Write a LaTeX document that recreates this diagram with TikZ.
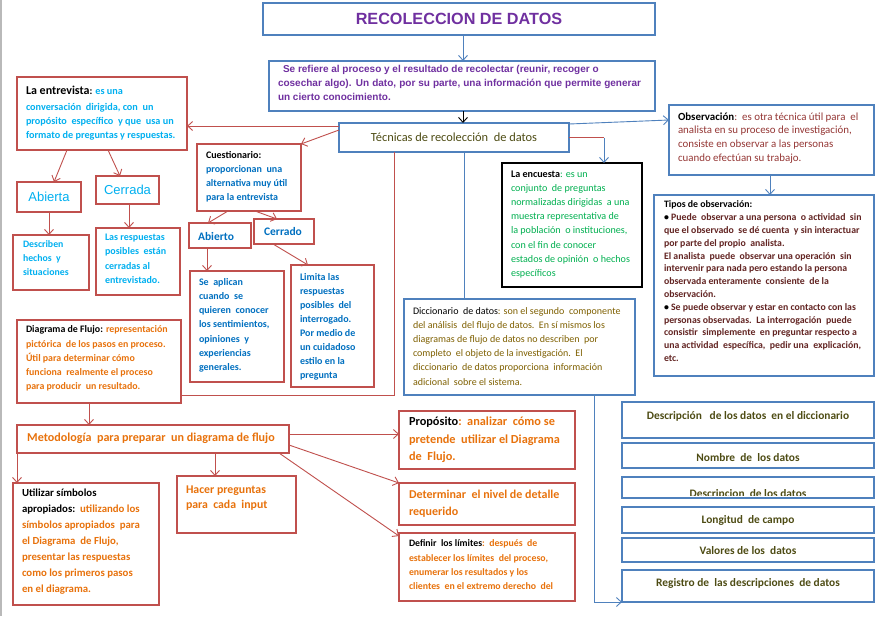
\documentclass[tikz,border=0pt]{standalone}
\usepackage{fontspec}
\setmainfont{Carlito}
\newfontfamily\arialf{Liberation Sans}
\usetikzlibrary{arrows.meta}
\definecolor{rbord}{HTML}{C0504D}
\definecolor{bbord}{HTML}{4F81BD}
\definecolor{cyant}{HTML}{00B0F0}
\definecolor{bluet}{HTML}{0070C0}
\definecolor{greent}{HTML}{00B050}
\definecolor{oranget}{HTML}{E8720C}
\definecolor{obst}{HTML}{953735}
\definecolor{tipt}{HTML}{632523}
\definecolor{purplet}{HTML}{7030A0}
\definecolor{olivet}{HTML}{4E4C14}
\definecolor{dictt}{HTML}{7F6000}
\newcommand{\myfs}[2]{\fontsize{#1}{#2}\selectfont}
\tikzset{
  bx/.style={draw, line width=1.7pt, inner sep=0pt, outer sep=0pt, anchor=north west},
  rb/.style={bx, draw=rbord},
  bb/.style={bx, draw=bbord},
  kb/.style={bx, draw=black, line width=2.2pt},
  tx/.style={anchor=north west, inner sep=0pt, outer sep=0pt, align=left},
  ct/.style={anchor=center, inner sep=0pt, outer sep=0pt},
  tip/.style={-{Straight Barb[length=5pt,width=9pt]}},
  rc/.style={draw=rbord, line width=0.9pt},
  bc/.style={draw=bbord, line width=0.9pt},
  kc/.style={draw=black, line width=0.9pt},
}
\begin{document}
\begin{tikzpicture}[x=1pt,y=-1pt]
\useasboundingbox (0,0) rectangle (893,616);
\fill[white] (0,0) rectangle (893,616);
\draw[gray!55, line width=2.5pt] (1,0) -- (1,616);

% ---------- top ----------
\node[bb, minimum width=392pt, minimum height=32pt, font=\arialf\bfseries\myfs{16.2}{18}, text=purplet] (title) at (263,3) {RECOLECCION DE DATOS};
\node[bb, minimum width=386pt, minimum height=50pt] (refiere) at (269,61) {};
\node[tx, font=\arialf\bfseries\myfs{10}{14}, text=purplet] (refiere-t) at (278,65.5)
 {\hspace*{5pt}Se refiere al proceso y el resultado de recolectar (reunir, recoger o\\\makebox[363pt][s]{cosechar algo). Un dato, por su parte, una información que permite generar}\\un cierto conocimiento.};
\node[bb, minimum width=230pt, minimum height=29pt, font=\myfs{12.4}{14}, text=olivet] (tecnicas) at (339,123) {Técnicas de recolección\ \ de datos};

% ---------- entrevista branch ----------
\node[rb, minimum width=170pt, minimum height=73pt] (entrevista) at (17,77) {};
\node[tx, font=\bfseries\myfs{10.2}{14}, text=cyant] (entrevista-t) at (26,86.5)
 {{\color{black}\myfs{12}{14}La entrevista}\textcolor{black}{:} es una\\[1.5pt]conversación\ \ dirigida, con\ \ un\\propósito\ \ específico\ \ y que\ \ usa un\\formato de preguntas y respuestas.};
\node[rb, minimum width=64pt, minimum height=30pt, font=\arialf\myfs{13}{15}, text=cyant] (abierta) at (17,182) {Abierta};
\node[rb, minimum width=63pt, minimum height=28pt, font=\arialf\myfs{13}{15}, text=cyant] (cerrada) at (96,176) {Cerrada};
\node[rb, minimum width=76pt, minimum height=55pt] (describen) at (13,235) {};
\node[tx, font=\bfseries\myfs{9.8}{14}, text=cyant] (describen-t) at (23,241)
 {Describen\\hechos\ \ y\\situaciones};
\node[rb, minimum width=84pt, minimum height=67pt] (lasresp) at (96,228) {};
\node[tx, font=\bfseries\myfs{10}{14.3}, text=cyant] (lasresp-t) at (105,234)
 {Las respuestas\\posibles\ \ están\\cerradas al\\entrevistado.};

% ---------- cuestionario branch ----------
\node[rb, minimum width=104pt, minimum height=67pt] (cuest) at (197,144) {};
\node[tx, font=\bfseries\myfs{10}{14}, text=bluet] (cuest-t) at (206,151)
 {\textcolor{black}{Cuestionario:}\\proporcionan\ \ una\\alternativa muy útil\\para la entrevista};
\node[rb, minimum width=62pt, minimum height=25pt] (abierto) at (189,223) {};
\node[ct, font=\bfseries\myfs{11.5}{13}, text=bluet] (abierto-t) at (216,237) {Abierto};
\node[rb, minimum width=60pt, minimum height=25pt] (cerrado) at (254,219) {};
\node[ct, font=\bfseries\myfs{11.5}{13}, text=bluet] (cerrado-t) at (283,232) {Cerrado};
\node[rb, minimum width=94pt, minimum height=111pt] (seaplican) at (190,271) {};
\node[tx, font=\bfseries\myfs{10}{14.3}, text=bluet] (seaplican-t) at (199,278)
 {Se\ \ aplican\\cuando\ \ se\\quieren\ \ conocer\\los sentimientos,\\opiniones\ \ y\\experiencias\\generales.};
\node[rb, minimum width=83pt, minimum height=122pt] (limita) at (291,265) {};
\node[tx, font=\bfseries\myfs{10}{14.1}, text=bluet] (limita-t) at (300,273)
 {Limita las\\respuestas\\posibles\ \ del\\interrogado.\\Por medio de\\un cuidadoso\\estilo en la\\pregunta};

% ---------- encuesta ----------
\node[kb, minimum width=140pt, minimum height=124pt] (encuesta) at (502,163) {};
\node[tx, font=\myfs{10.1}{14.1}, text=greent] (encuesta-t) at (511,171)
 {\textcolor{black}{\bfseries La encuesta}: es un\\conjunto\ \ de preguntas\\normalizadas dirigidas\ \ a una\\muestra representativa de\\la población\ \ o instituciones,\\con el fin de conocer\\estados de opinión\ \ o hechos\\específicos};

% ---------- observacion ----------
\node[bb, minimum width=205pt, minimum height=70pt] (observ) at (669,105) {};
\node[tx, font=\myfs{10.9}{13.7}, text=obst] (observ-t) at (678,112.5)
 {\textcolor{black}{\bfseries Observación}:\ \ es otra técnica útil para\ \ el\\analista en su proceso de investigación,\\consiste en observar a las personas\\cuando efectúan su trabajo.};
\node[bb, minimum width=220pt, minimum height=181pt] (tipos) at (654,195) {};
\node[tx, font=\bfseries\myfs{9.8}{12.8}, text=tipt] (tipos-t) at (664,201)
 {\textcolor{black}{Tipos de observación:}\\\textcolor{black}{\textbullet} Puede\ \ observar a una persona\ \ o actividad\ \ sin\\que el observado\ \ se dé cuenta\ \ y sin interactuar\\por parte del propio\ \ analista.\\El analista\ \ puede\ \ observar una operación\ \ sin\\intervenir para nada pero estando la persona\\observada enteramente\ \ consiente\ \ de la\\observación.\\\textcolor{black}{\textbullet} Se puede observar y estar en contacto con las\\personas observadas.\ \ La interrogación\ \ puede\\consistir\ \ simplemente\ \ en preguntar respecto a\\una actividad\ \ específica,\ \ pedir una\ \ explicación,\\etc.};

% ---------- diccionario ----------
\node[bb, minimum width=231pt, minimum height=96pt] (dicc) at (404,299) {};
\node[tx, font=\myfs{10}{14}, text=dictt] (dicc-t) at (413,307.5)
 {\textcolor{black}{Diccionario\ \ de datos}: son el segundo\ \ componente\\del análisis\ \ del flujo de datos.\ \ En sí mismos los\\diagramas de flujo de datos no describen\ \ por\\completo\ \ el objeto de la investigación.\ \ El\\diccionario\ \ de datos proporciona\ \ información\\[1.5pt]adicional\ \ sobre el sistema.};

\node[bb, minimum width=252pt, minimum height=36pt] (desc) at (622,402) {};
\node[ct, font=\bfseries\myfs{11.4}{13}, text=olivet] (desc-t) at (748,416) {Descripción\ \ \ de los datos\ \ en el diccionario};
\node[bb, minimum width=252pt, minimum height=25pt] (nombre) at (622,443) {};
\node[ct, font=\bfseries\myfs{11.4}{13}, text=olivet] (nombre-t) at (748,458) {Nombre\ \ de\ \ los datos};
\begin{scope}
\clip (622,477) rectangle (874,495.2);
\node[anchor=base, inner sep=0pt, font=\bfseries\myfs{11.4}{13}, text=olivet] (descr2-t) at (748,497) {Descripcion\ \ de los datos};
\end{scope}
\node[bb, minimum width=252pt, minimum height=21pt] (descr2) at (622,477) {};
\node[bb, minimum width=252pt, minimum height=26pt] (longitud) at (622,507) {};
\node[ct, font=\bfseries\myfs{11.4}{13}, text=olivet] (longitud-t) at (748,520) {Longitud\ \ de campo};
\node[bb, minimum width=252pt, minimum height=24pt] (valores) at (622,538) {};
\node[ct, font=\bfseries\myfs{11.4}{13}, text=olivet] (valores-t) at (748,551) {Valores de los\ \ datos};
\node[bb, minimum width=252pt, minimum height=32pt] (registro) at (622,570) {};
\node[ct, font=\bfseries\myfs{11.4}{13}, text=olivet] (registro-t) at (748,583) {Registro de\ \ las descripciones\ \ de datos};

% ---------- diagrama de flujo ----------
\node[rb, minimum width=164pt, minimum height=83pt] (diagrama) at (17,320) {};
\node[tx, font=\bfseries\myfs{9.9}{14.2}, text=oranget] (diagrama-t) at (26,326)
 {\textcolor{black}{Diagrama de Flujo:} representación\\pictórica\ \ de los pasos en proceso.\\Útil para determinar cómo\\funciona\ \ realmente el proceso\\para producir\ \ un resultado.};
\node[rb, minimum width=272pt, minimum height=28pt] (metod) at (17,425) {};
\node[anchor=west, inner sep=0pt, font=\bfseries\myfs{12.1}{14}, text=oranget] (metod-t) at (27,438.5) {Metodología\ \ para preparar\ \ un diagrama de flujo};
\node[rb, minimum width=146pt, minimum height=122pt] (utilizar) at (13,483) {};
\node[tx, font=\bfseries\myfs{10.8}{16}, text=oranget] (utilizar-t) at (22,489)
 {\textcolor{black}{Utilizar símbolos}\\\textcolor{black}{apropiados:}\ \ utilizando los\\símbolos apropiados\ \ para\\el Diagrama\ \ de Flujo,\\presentar las respuestas\\como los primeros pasos\\en el diagrama.};
\node[rb, minimum width=119pt, minimum height=57pt] (hacer) at (177,476) {};
\node[tx, font=\bfseries\myfs{11.8}{15.5}, text=oranget] (hacer-t) at (186,485.5)
 {Hacer preguntas\\para\ \ cada\ \ input};
\node[rb, minimum width=176pt, minimum height=58pt] (proposito) at (399,411) {};
\node[tx, font=\bfseries\myfs{12.3}{17.5}, text=oranget] (proposito-t) at (409,417)
 {\textcolor{black}{Propósito}:\ \ analizar\ \ cómo se\\pretende\ \ utilizar el Diagrama\\de\ \ Flujo.};
\node[rb, minimum width=176pt, minimum height=42pt] (determinar) at (399,483) {};
\node[tx, font=\bfseries\myfs{12}{17}, text=oranget] (determinar-t) at (409,490.5)
 {Determinar\ \ el nivel de detalle\\requerido};
\node[rb, minimum width=176pt, minimum height=68pt] (definir) at (399,533) {};
\node[tx, font=\bfseries\myfs{9.8}{14.3}, text=oranget] (definir-t) at (409,540)
 {\textcolor{black}{Definir\ \ los límites}:\ \ después\ \ de\\establecer los límites\ \ del proceso,\\enumerar los resultados y los\\clientes\ \ en el extremo derecho\ \ del};

% ---------- connectors ----------
\draw[bc, tip] ([xshift=200pt]title.south west) -- ([xshift=194pt]refiere.north west);
\draw[kc, tip] ([xshift=194pt]refiere.south west) -- ([xshift=124pt]tecnicas.north west);
\draw[rc, tip] ([yshift=-3pt]tecnicas.north west) -- ([yshift=-49pt]entrevista.north east);
\draw[rc, tip] ([yshift=-7pt]tecnicas.north west) -- (cuest.north east);
\draw[rc] ([xshift=55pt]tecnicas.south west) |- ([yshift=8pt]diagrama.south east);
\draw[bc] ([xshift=125pt]tecnicas.south west) -- ([xshift=60pt]dicc.north west);
\coordinate (enctop) at ([xshift=102pt]encuesta.north west);
\draw[rc] (tecnicas.east) -- (tecnicas.east -| enctop);
\draw[bc, tip] (tecnicas.east -| enctop) -- (enctop);
\draw[bc, tip] ([yshift=-1pt]tecnicas.north east) -- ([yshift=-15pt]observ.north west);
\draw[bc, tip] ([xshift=101pt]observ.south west) -- ([xshift=116pt]tipos.north west);

\draw[rc, tip] ([xshift=50pt]entrevista.south west) -- ([xshift=37pt]abierta.north west);
\draw[rc, tip] ([xshift=91pt]entrevista.south west) -- ([xshift=24pt]cerrada.north west);
\draw[rc, tip] ([xshift=32pt]abierta.south west) -- ([xshift=36pt]describen.north west);
\draw[rc, tip] ([xshift=33pt]cerrada.south west) -- ([xshift=33pt]lasresp.north west);
\draw[rc, tip] ([xshift=31pt]cuest.south west) -- ([xshift=19pt]abierto.north west);
\draw[rc, tip] ([xshift=58pt]cuest.south west) -- ([xshift=23pt]cerrado.north west);
\draw[rc, tip] ([xshift=18pt]abierto.south west) -- ([xshift=17pt]seaplican.north west);
\draw[rc, tip] ([xshift=19pt]cerrado.south west) -- ([xshift=17pt]limita.north west);

\draw[rc, tip] ([xshift=72pt]diagrama.south west) -- ([xshift=72pt]metod.north west);
\draw[rc, tip] (metod.south west) -- ([xshift=4pt]utilizar.north west);
\draw[rc, tip] ([xshift=198pt]metod.south west) -- ([xshift=38pt]hacer.north west);
\draw[rc, tip] ([yshift=-9pt]metod.north east) -- ([yshift=-23pt]proposito.north west);
\draw[rc, tip] ([yshift=-20pt]metod.north east) -- (determinar.north west);
\draw[rc, tip] ([xshift=-10pt]metod.south east) -- ([yshift=-3pt]definir.north west);

\draw[bc, tip] ([xshift=190pt]dicc.south west) |- (registro.south west);
\end{tikzpicture}
\end{document}
